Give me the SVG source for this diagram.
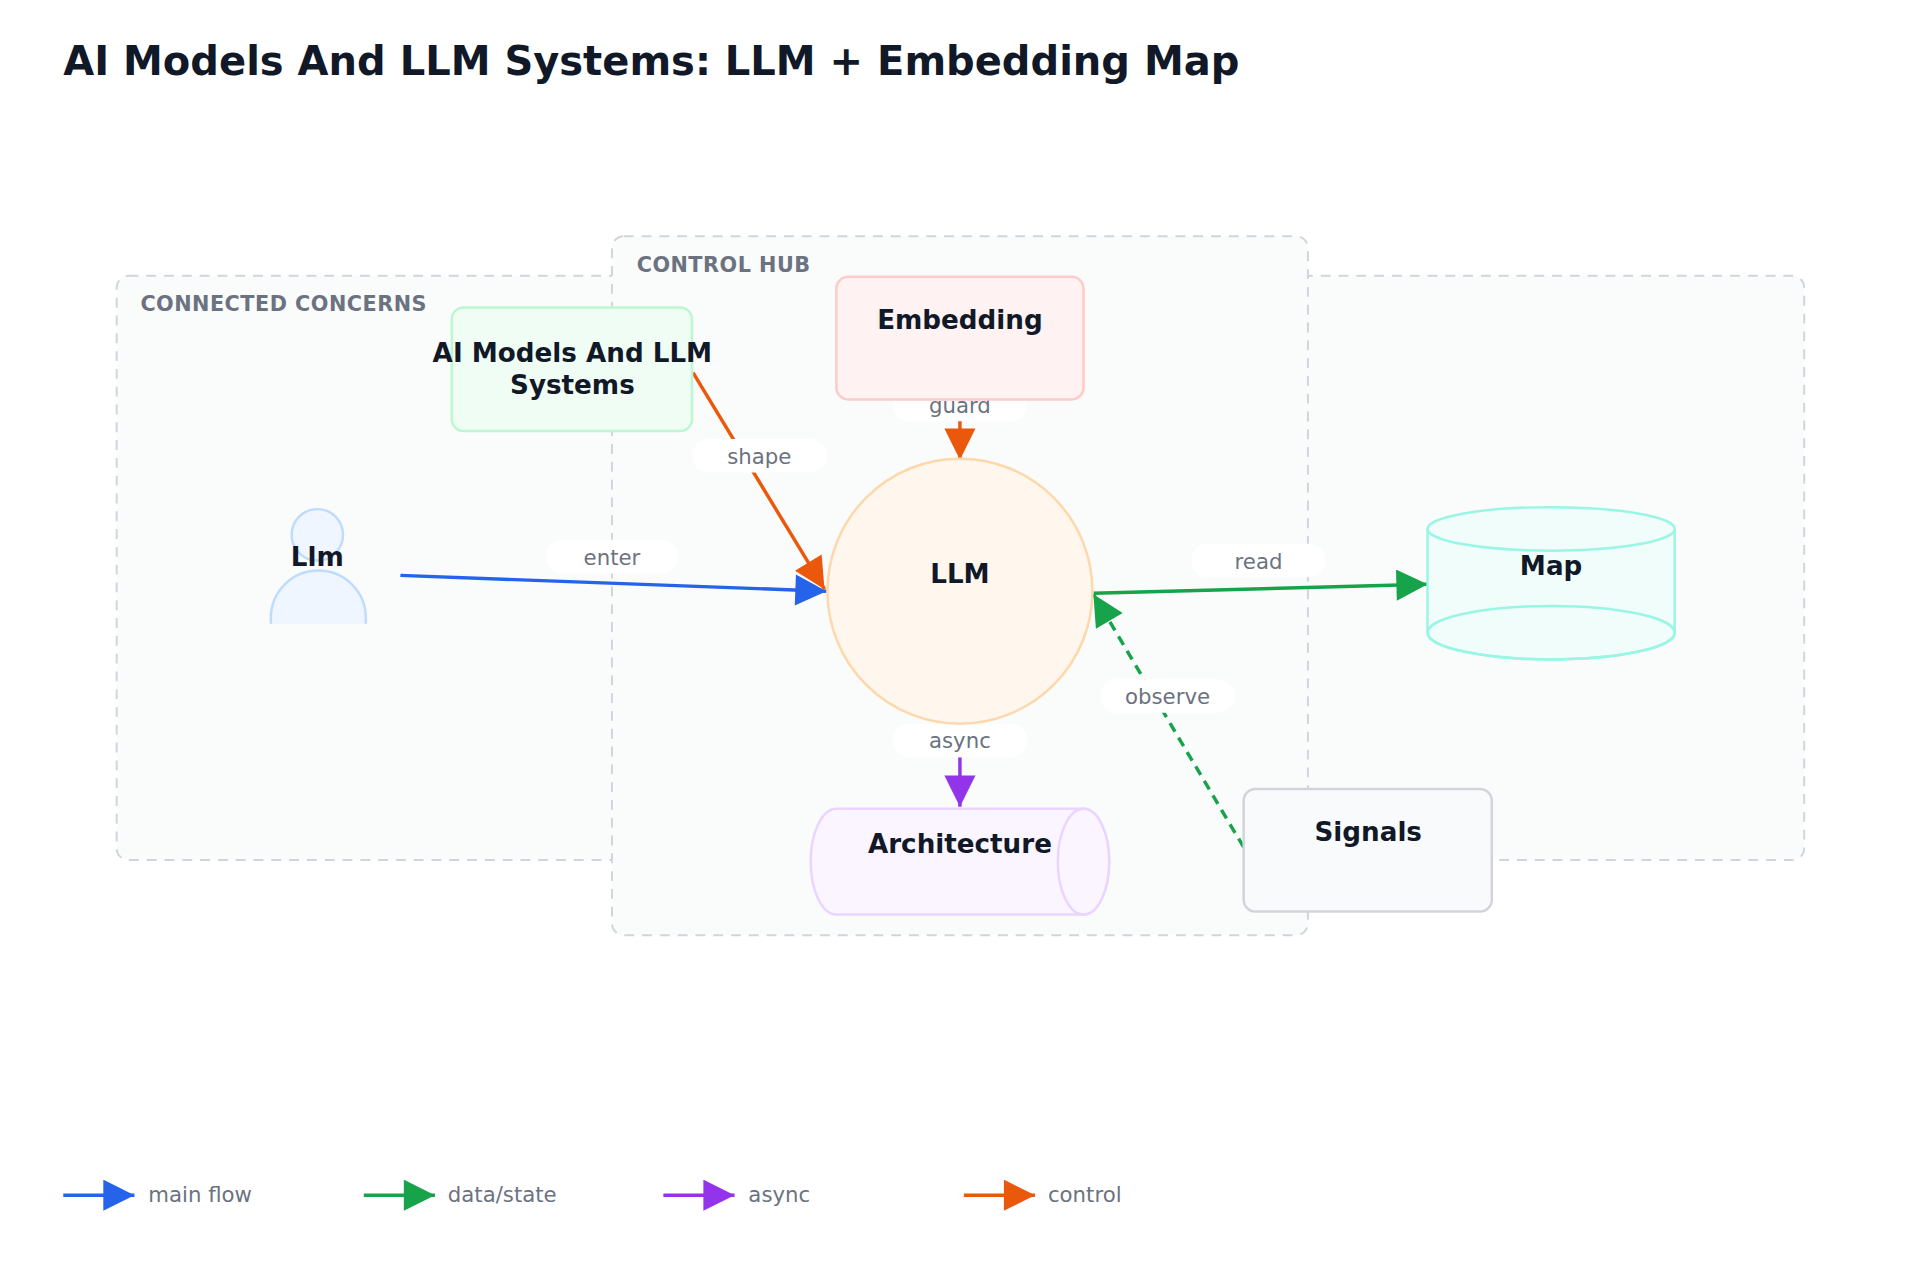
<svg xmlns="http://www.w3.org/2000/svg" width="1920" height="1280" viewBox="0 0 1920 1280">
<style>
text{font-family:"DejaVu Sans","Liberation Sans",sans-serif}
.title{font-size:40.5px;font-weight:bold;fill:#111827}
.grp{fill:#fafbfb;stroke:#d1d5db;stroke-width:2;stroke-dasharray:10 8}
.glbl{font-size:21px;font-weight:bold;fill:#6b7280;letter-spacing:0.5px}
.nt{font-size:26.5px;font-weight:bold;fill:#111827;text-anchor:middle}
.el{font-size:21.5px;fill:#6b7280;text-anchor:middle}
.pill{fill:#fff}
.lg{font-size:21.5px;fill:#6b7280}
.e{fill:none;stroke-width:3.5}
</style>
<defs>
<marker id="ab" viewBox="0 0 10 10" refX="10" refY="5" markerWidth="12" markerHeight="9" orient="auto" markerUnits="strokeWidth"><path d="M0,0L10,5L0,10z" fill="#2563eb"/></marker>
<marker id="ag" viewBox="0 0 10 10" refX="10" refY="5" markerWidth="12" markerHeight="9" orient="auto" markerUnits="strokeWidth"><path d="M0,0L10,5L0,10z" fill="#16a34a"/></marker>
<marker id="ap" viewBox="0 0 10 10" refX="10" refY="5" markerWidth="12" markerHeight="9" orient="auto" markerUnits="strokeWidth"><path d="M0,0L10,5L0,10z" fill="#9333ea"/></marker>
<marker id="ao" viewBox="0 0 10 10" refX="10" refY="5" markerWidth="12" markerHeight="9" orient="auto" markerUnits="strokeWidth"><path d="M0,0L10,5L0,10z" fill="#ea580c"/></marker>
</defs>
<rect width="1920" height="1280" fill="#fff"/>
<g transform="scale(0.9886)">
<text class="title" x="64" y="76">AI Models And LLM Systems: LLM + Embedding Map</text>
<g id="groups">
<rect class="grp" x="118" y="279" width="1707" height="591" rx="12"/>
<text class="glbl" x="142" y="315">CONNECTED CONCERNS</text>
<rect class="grp" x="619" y="239" width="704" height="707" rx="12"/>
<text class="glbl" x="644" y="275">CONTROL HUB</text>
</g>
<g id="connectors">
<path class="e" d="M405,582L836,598" stroke="#2563eb" marker-end="url(#ab)"/>
<path class="e" d="M701,377L834,596" stroke="#ea580c" marker-end="url(#ao)"/>
<path class="e" d="M971,406L971,465" stroke="#ea580c" marker-end="url(#ao)"/>
<path class="e" d="M1106,600L1444,591" stroke="#16a34a" marker-end="url(#ag)"/>
<path class="e" d="M971,766L971,816" stroke="#9333ea" marker-end="url(#ap)"/>
<path class="e" d="M1258,857L1106,601" stroke="#16a34a" stroke-dasharray="10 7" marker-end="url(#ag)"/>
<rect class="pill" x="552" y="546" width="134" height="34" rx="17"/><text class="el" x="619" y="572">enter</text>
<rect class="pill" x="700" y="444" width="136" height="34" rx="17"/><text class="el" x="768" y="469">shape</text>
<rect class="pill" x="903" y="394" width="136" height="32" rx="16"/><text class="el" x="971" y="418">guard</text>
<rect class="pill" x="1205" y="550" width="136" height="34" rx="17"/><text class="el" x="1273" y="576">read</text>
<rect class="pill" x="903" y="732" width="136" height="34" rx="17"/><text class="el" x="971" y="757">async</text>
<rect class="pill" x="1113" y="687" width="136" height="34" rx="17"/><text class="el" x="1181" y="712">observe</text>
</g>
<g id="embedding"><rect x="846" y="280" width="250" height="124" rx="12" fill="#fef2f2" stroke="#fecaca" stroke-width="2.5"/><text class="nt" x="971" y="333">Embedding</text></g>
<g id="ai-models"><rect x="457" y="311" width="243" height="125" rx="12" fill="#f0fdf4" stroke="#bbf7d0" stroke-width="2.5"/><text class="nt" x="579" y="366">AI Models And LLM</text><text class="nt" x="579" y="399">Systems</text></g>
<g id="llm"><circle cx="971" cy="598" r="134" fill="#fff7ed" stroke="#fed7aa" stroke-width="2.5"/><text class="nt" x="971" y="590">LLM</text></g>
<g id="map"><path d="M1444,535V640A125,27 0 0 0 1694,640V535" fill="#f0fdfa" stroke="#99f6e4" stroke-width="2.5"/><ellipse cx="1569" cy="535" rx="125" ry="22" fill="#f0fdfa" stroke="#99f6e4" stroke-width="2.5"/><ellipse cx="1569" cy="640" rx="125" ry="27" fill="none" stroke="#99f6e4" stroke-width="2.5"/><text class="nt" x="1569" y="582">Map</text></g>
<g id="architecture"><path d="M846,818H1096A26,53.5 0 0 1 1096,925H846A26,53.5 0 0 1 846,818z" fill="#faf5ff" stroke="#e9d5ff" stroke-width="2.5"/><ellipse cx="1096" cy="871.5" rx="26" ry="53.5" fill="#faf5ff" stroke="#e9d5ff" stroke-width="2.5"/><text class="nt" x="971" y="863">Architecture</text></g>
<g id="signals"><rect x="1258" y="798" width="251" height="124" rx="12" fill="#f8fafc" stroke="#d1d5db" stroke-width="2.5"/><text class="nt" x="1384" y="851">Signals</text></g>
<g id="llm-user"><circle cx="321" cy="541" r="26" fill="#eff6ff" stroke="#bfdbfe" stroke-width="2.5"/><path d="M274,631V625A48,48 0 0 1 370,625V631" fill="#eff6ff" stroke="#bfdbfe" stroke-width="2.5"/><text class="nt" x="321" y="573">Llm</text></g>
<g id="legend">
<path class="e" d="M64,1209H136" stroke="#2563eb" marker-end="url(#ab)"/><text class="lg" x="150" y="1216">main flow</text>
<path class="e" d="M368,1209H440" stroke="#16a34a" marker-end="url(#ag)"/><text class="lg" x="453" y="1216">data/state</text>
<path class="e" d="M671,1209H743" stroke="#9333ea" marker-end="url(#ap)"/><text class="lg" x="757" y="1216">async</text>
<path class="e" d="M975,1209H1047" stroke="#ea580c" marker-end="url(#ao)"/><text class="lg" x="1060" y="1216">control</text>
</g>
</g>
</svg>
